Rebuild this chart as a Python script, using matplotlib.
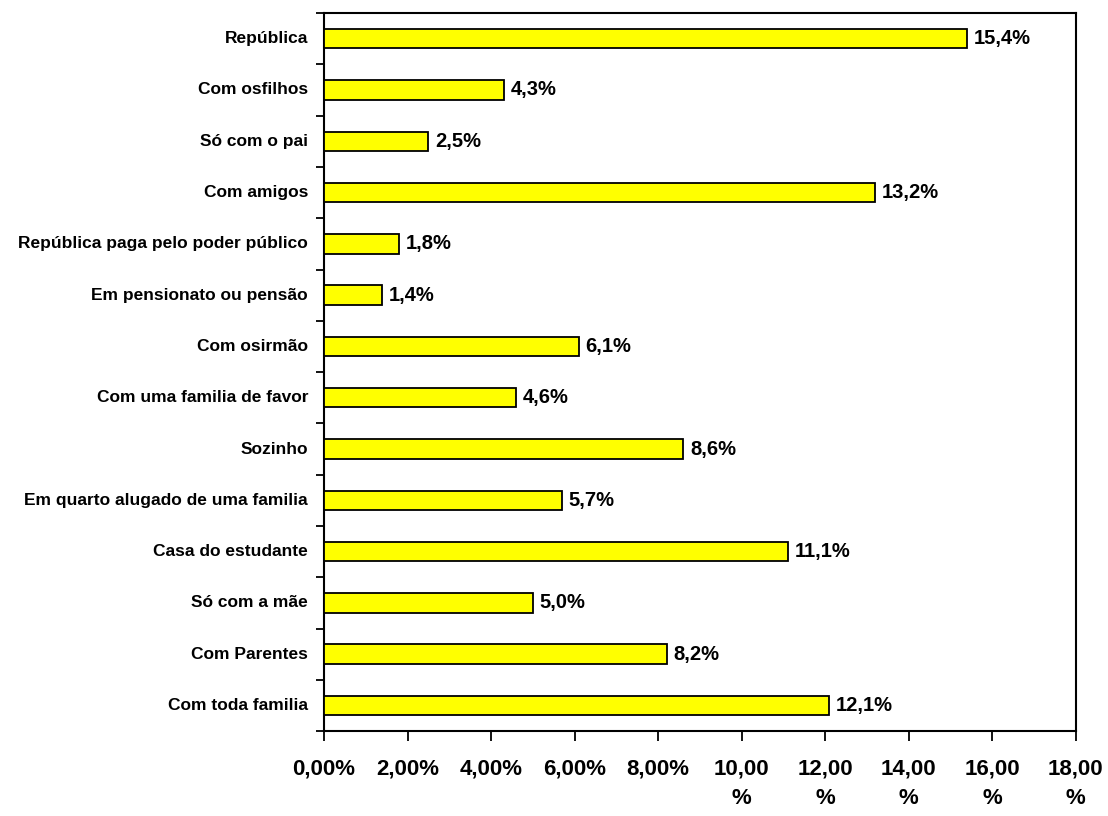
import numpy as np
import matplotlib.pyplot as plt

categories = [
    "República",
    "Com osfilhos",
    "Só com o pai",
    "Com amigos",
    "República paga pelo poder público",
    "Em pensionato ou pensão",
    "Com osirmão",
    "Com uma familia de favor",
    "Sozinho",
    "Em quarto alugado de uma familia",
    "Casa do estudante",
    "Só com a mãe",
    "Com Parentes",
    "Com toda familia",
]
values = [15.4, 4.3, 2.5, 13.2, 1.8, 1.4, 6.1, 4.6, 8.6, 5.7, 11.1, 5.0, 8.2, 12.1]
xticks = [0, 2, 4, 6, 8, 10, 12, 14, 16, 18]
xtick_labels = ["0,00%", "2,00%", "4,00%", "6,00%", "8,00%",
                "10,00\n%", "12,00\n%", "14,00\n%", "16,00\n%", "18,00\n%"]

plt.rcParams["font.family"] = ["Liberation Sans", "DejaVu Sans"]
plt.rcParams["font.weight"] = "bold"

fig = plt.figure(figsize=(11.08, 8.16), dpi=100)
ax = fig.add_axes([0.2924, 0.104, 0.6786, 0.880])

n = len(categories)
y = np.arange(n)[::-1]
ax.barh(y, values, height=0.38, color="#FFFF00", edgecolor="black", linewidth=1.3, zorder=3)

for yi, v in zip(y, values):
    ax.text(v + 0.16, yi, f"{v:.1f}%".replace(".", ","), va="center", ha="left",
            fontsize=14.5, fontweight="bold")

ax.set_xlim(0, 18)
ax.set_ylim(-0.5, n - 0.5)

ax.set_xticks(xticks)
ax.set_xticklabels(xtick_labels, fontsize=16, fontweight="bold", linespacing=1.5, va="top")
ax.tick_params(axis="x", direction="out", length=7, width=1.3, pad=13)

ax.set_yticks(np.arange(n + 1) - 0.5)
ax.set_yticklabels([])
ax.tick_params(axis="y", direction="out", length=6, width=1.3)
for yi, c in zip(y, categories):
    ax.text(-0.38, yi, c, ha="right", va="center", fontsize=12.5, fontweight="bold",
            transform=ax.transData)

for spine in ax.spines.values():
    spine.set_linewidth(1.5)

fig.savefig("out.png", dpi=100, facecolor="white")
